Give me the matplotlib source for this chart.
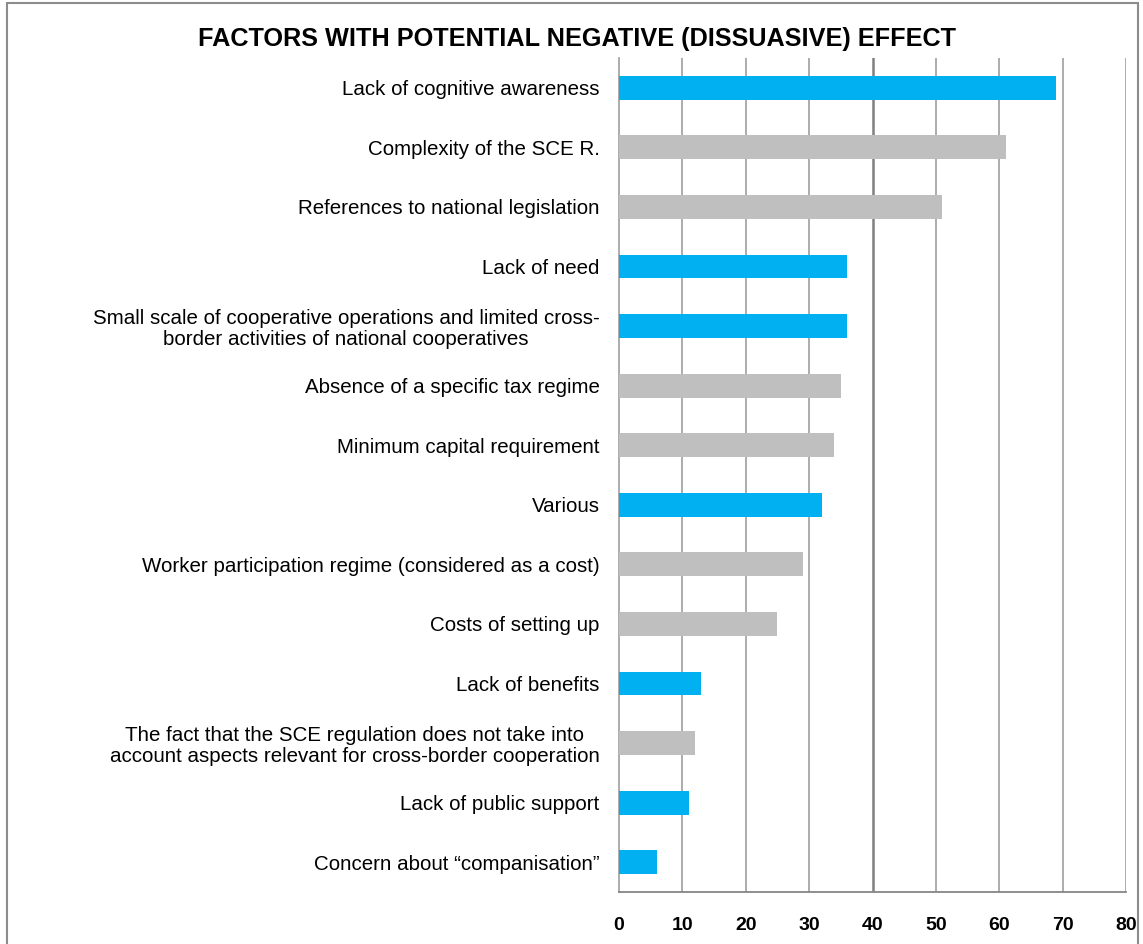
import numpy as np
import matplotlib.pyplot as plt
from matplotlib.patches import Rectangle

# ─── 数据 ────────────────────────────────────────────────────────────────────
factors = [
    "Lack of cognitive awareness",
    "Complexity of the SCE R.",
    "References to national legislation",
    "Lack of need",
    "Small scale of cooperative operations and limited cross-\nborder activities of national cooperatives",
    "Absence of a specific tax regime",
    "Minimum capital requirement",
    "Various",
    "Worker participation regime (considered as a cost)",
    "Costs of setting up",
    "Lack of benefits",
    "The fact that the SCE regulation does not take into\naccount aspects relevant for cross-border cooperation",
    "Lack of public support",
    "Concern about \u201ccompanisation\u201d",
]
values = [69, 61, 51, 36, 36, 35, 34, 32, 29, 25, 13, 12, 11, 6]
highlight = [True, False, False, True, True, False, False, True, False, False, True, False, True, True]

BLUE = "#00B0F0"
GREY = "#BFBFBF"

plt.rcParams["font.family"] = ["Liberation Sans", "DejaVu Sans"]

fig = plt.figure(figsize=(11.43, 9.44), dpi=100)
ax = fig.add_axes([0.5416, 0.0551, 0.4435, 0.8835])

y = np.arange(len(factors))
colors = [BLUE if h else GREY for h in highlight]
ax.barh(y, values, height=0.4, color=colors, zorder=3)

ax.set_ylim(len(factors) - 0.5, -0.5)
ax.set_xlim(0, 80)
ax.set_xticks(np.arange(0, 81, 10))
ax.set_yticks(y)
ax.set_yticklabels(factors, fontsize=14.8, multialignment="center", linespacing=1.1)
ax.tick_params(axis="y", length=0, pad=14)
ax.tick_params(axis="x", length=0, pad=18, labelsize=14)
for lab in ax.get_xticklabels():
    lab.set_fontweight("bold")

# 网格线（40 处更深）
for xv in np.arange(10, 81, 10):
    c = "#808080" if xv == 40 else "#A6A6A6"
    lw = 1.8 if xv == 40 else 1.3
    ax.axvline(xv, color=c, lw=lw, zorder=1)

for s in ["top", "right"]:
    ax.spines[s].set_visible(False)
ax.spines["left"].set_color("#A6A6A6")
ax.spines["left"].set_linewidth(1.3)
ax.spines["bottom"].set_color("#868686")
ax.spines["bottom"].set_linewidth(1.3)

fig.text(0.505, 0.959, "FACTORS WITH POTENTIAL NEGATIVE (DISSUASIVE) EFFECT",
         ha="center", va="center", fontsize=18.2, fontweight="bold")

# 外框
fig.patches.append(Rectangle((0.006, -0.01), 0.99, 1.007, transform=fig.transFigure,
                             fill=False, edgecolor="#8C8C8C", lw=1.5))

fig.savefig("out.png", dpi=100)
